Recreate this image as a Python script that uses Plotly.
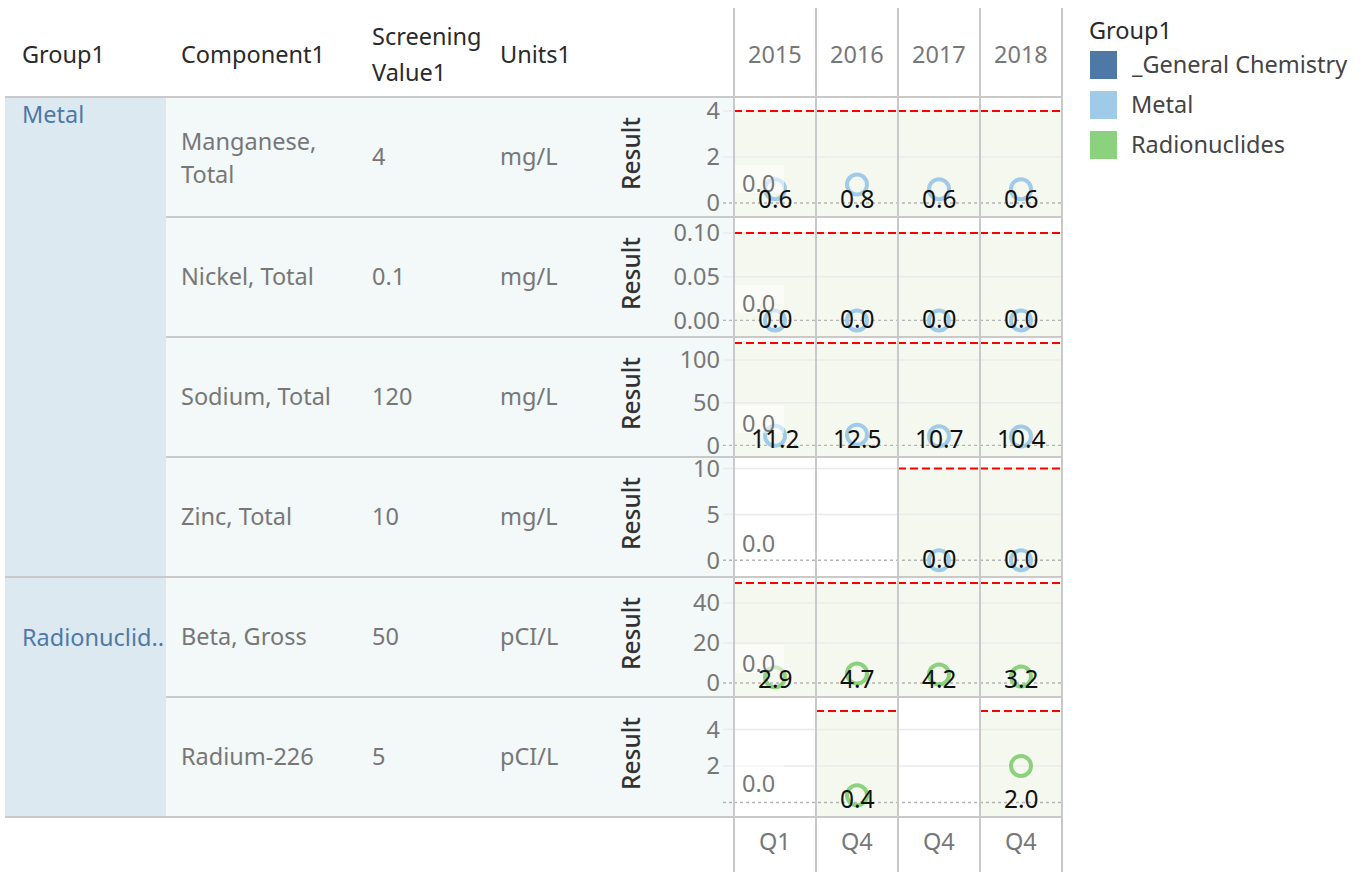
import plotly.graph_objects as go

W, H = 1364, 872
FONT = "Noto Sans"
FS = 23.5

# ---- data ----
years = ["2015", "2016", "2017", "2018"]
quarters = ["Q1", "Q4", "Q4", "Q4"]
group_names = ["Metal", "Radionuclid.."]
group_rows = [[0, 1, 2, 3], [4, 5]]
row_group = ["Metal", "Metal", "Metal", "Metal", "Radionuclides", "Radionuclides"]
components = [["Manganese,", "Total"], ["Nickel, Total"], ["Sodium, Total"],
              ["Zinc, Total"], ["Beta, Gross"], ["Radium-226"]]
screening = [4, 0.1, 120, 10, 50, 5]
screening_text = ["4", "0.1", "120", "10", "50", "5"]
units = ["mg/L", "mg/L", "mg/L", "mg/L", "pCI/L", "pCI/L"]

manganese = [0.6, 0.8, 0.6, 0.6]
nickel = [0.0, 0.0, 0.0, 0.0]
sodium = [11.2, 12.5, 10.7, 10.4]
zinc = [None, None, 0.0, 0.0]
beta = [2.9, 4.7, 4.2, 3.2]
radium = [None, 0.4, None, 2.0]
results = [manganese, nickel, sodium, zinc, beta, radium]

y_tickvals = [[0, 2, 4], [0, 0.05, 0.10], [0, 50, 100], [0, 5, 10], [0, 20, 40], [2, 4]]
y_ticktext = [["0", "2", "4"], ["0.00", "0.05", "0.10"], ["0", "50", "100"],
              ["0", "5", "10"], ["0", "20", "40"], ["2", "4"]]

legend_items = ["_General Chemistry", "Metal", "Radionuclides"]
group_colors = {"_General Chemistry": "#4e79a7", "Metal": "#a0cbe8", "Radionuclides": "#8cd17d"}

# ---- layout geometry (pixels) ----
ROW_TOP, ROW_H = 97, 120
PX0, PX1 = 734, 1062
NCOL = len(years)
COL_W = (PX1 - PX0) / NCOL
y_ranges = [[-0.61, 4.61], [-0.019, 0.1183], [-13.6, 127], [-1.82, 11.26], [-7, 53], [-0.79, 5.77]]

GRID = "#c9c9c9"
DARK = "#333333"
GRAY = "#777777"
TEXT_LIFT = 1  # nudge text up so glyphs sit centred on the row


def px(x):
    return x / W


def py(y):
    return 1 - y / H


fig = go.Figure()
shapes, annotations = [], []
layout = {}


def text(x, y, s, color=DARK, size=FS, xanchor="left", weight="normal", **kw):
    annotations.append(dict(xref="paper", yref="paper", x=px(x), y=py(y - TEXT_LIFT), text=s,
                            showarrow=False, xanchor=xanchor, yanchor="middle",
                            font=dict(family=FONT, size=size, color=color, weight=weight), **kw))


def hline(y, x0, x1, color=GRID, width=2):
    shapes.append(dict(type="line", xref="paper", yref="paper", x0=px(x0), x1=px(x1),
                       y0=py(y), y1=py(y), line=dict(color=color, width=width), layer="above"))


# table backgrounds
shapes.append(dict(type="rect", xref="paper", yref="paper", x0=px(5), x1=px(166),
                   y0=py(ROW_TOP + 6 * ROW_H), y1=py(ROW_TOP), fillcolor="#dde9f0",
                   line_width=0, layer="below"))
shapes.append(dict(type="rect", xref="paper", yref="paper", x0=px(166), x1=px(PX0),
                   y0=py(ROW_TOP + 6 * ROW_H), y1=py(ROW_TOP), fillcolor="#f3f8f9",
                   line_width=0, layer="below"))

# header row
text(20, 55, "Group1", color="#2a2a2a")
text(179, 55, "Component1", color="#2a2a2a")
text(370, 37, "Screening", color="#2a2a2a")
text(370, 73, "Value1", color="#2a2a2a")
text(498, 55, "Units1", color="#2a2a2a")
for c, (yr, q) in enumerate(zip(years, quarters)):
    cx = PX0 + COL_W * (c + 0.5)
    text(cx, 55, yr, color=GRAY, xanchor="center")
    text(cx, 842, q, color=GRAY, xanchor="center")

# group labels
text(20, 115, group_names[0], color="#4e79a7")
text(20, 638, group_names[1], color="#4e79a7")

for i in range(6):
    n = i + 1
    sfx = "" if n == 1 else str(n)
    xa, ya = "x" + sfx, "y" + sfx
    top = ROW_TOP + i * ROW_H
    mid = top + ROW_H / 2
    lo, hi = y_ranges[i]

    layout["xaxis" + sfx] = dict(domain=[px(PX0), px(PX1)], range=[0, NCOL], visible=False,
                                 anchor=ya, fixedrange=True, automargin=False)
    layout["yaxis" + sfx] = dict(domain=[py(top + ROW_H), py(top)], range=[lo, hi],
                                 tickvals=y_tickvals[i], ticktext=y_ticktext[i],
                                 showgrid=False, zeroline=False, showline=False, ticks="",
                                 ticklabelstandoff=13, anchor=xa, fixedrange=True,
                                 automargin=False,
                                 tickfont=dict(family=FONT, size=FS, color=GRAY))

    # row header cells
    comp = components[i]
    if len(comp) == 2:
        text(179, top + 45, comp[0], color=GRAY)
        text(179, top + 78, comp[1], color=GRAY)
    else:
        text(179, mid, comp[0], color=GRAY)
    text(370, mid, screening_text[i], color=GRAY)
    text(498, mid, units[i], color=GRAY)
    annotations.append(dict(xref="paper", yref="paper", x=px(630), y=py(mid - 3), text="Result",
                            showarrow=False, textangle=-90, xanchor="center", yanchor="middle",
                            font=dict(family=FONT, size=24.5, color=DARK, weight=500)))

    vals = results[i]
    color = group_colors[row_group[i]]

    # screening band for cells holding a result
    for c, v in enumerate(vals):
        if v is None:
            continue
        shapes.append(dict(type="rect", xref=xa, yref=ya, x0=c, x1=c + 1, y0=lo, y1=screening[i],
                           fillcolor="#f5f8ee", line_width=0, layer="below"))
    # gridlines
    for t in y_tickvals[i]:
        if t == 0:
            continue
        shapes.append(dict(type="line", xref=xa, yref=ya, x0=0, x1=NCOL, y0=t, y1=t,
                           line=dict(color="#ebebeb", width=1.5), layer="below"))
        shapes.append(dict(type="line", xref="paper", yref=ya, x0=px(723), x1=px(PX0), y0=t, y1=t,
                           line=dict(color="#ebebeb", width=1.5), layer="above"))
    # zero line
    shapes.append(dict(type="line", xref=xa, yref=ya, x0=0, x1=NCOL, y0=0, y1=0,
                       line=dict(color="#b5b5b5", width=1.4, dash="3px,3px"), layer="between"))
    shapes.append(dict(type="line", xref="paper", yref=ya, x0=px(723), x1=px(PX0), y0=0, y1=0,
                       line=dict(color="#b5b5b5", width=1.4, dash="3px,3px"), layer="above"))
    # screening value reference line
    for c, v in enumerate(vals):
        if v is None:
            continue
        shapes.append(dict(type="line", xref=xa, yref=ya, x0=c, x1=c + 1,
                           y0=screening[i], y1=screening[i],
                           line=dict(color="#ff0000", width=2, dash="8px,4px"), layer="between"))

    xs = [c + 0.5 for c, v in enumerate(vals) if v is not None]
    ys = [v for v in vals if v is not None]
    fig.add_trace(go.Scatter(x=xs, y=ys, xaxis=xa, yaxis=ya, mode="markers",
                             marker=dict(symbol="circle-open", size=20, color=color,
                                         line=dict(width=4)),
                             showlegend=False, hoverinfo="skip", cliponaxis=False))

    # "0.0" reference label in the first column
    shapes.append(dict(type="rect", xref=xa, yref=ya + " domain", x0=1 / COL_W, x1=50 / COL_W,
                       y0=1 - 96 / ROW_H, y1=1 - 68 / ROW_H,
                       fillcolor="rgba(255,255,255,0.55)", line_width=0, layer="above"))
    annotations.append(dict(xref=xa, yref=ya + " domain", x=6 / COL_W, y=1 - 86 / ROW_H,
                            text="0.0", showarrow=False, xanchor="left", yanchor="middle",
                            font=dict(family=FONT, size=FS, color=GRAY)))
    # value labels
    for x, v in zip(xs, ys):
        annotations.append(dict(xref=xa, yref=ya + " domain", x=x, y=19 / ROW_H,
                                text=f"{v:.1f}", showarrow=False, xanchor="center",
                                yanchor="middle", font=dict(family=FONT, size=24.5, color="#111111")))

# table rules
hline(ROW_TOP, 5, PX1)
for i in range(1, 7):
    y = ROW_TOP + i * ROW_H
    starts_group = any(g[0] == i for g in group_rows) or i == 6
    hline(y, 5 if starts_group else 166, PX1)
for c in range(NCOL + 1):
    x = PX0 + COL_W * c
    shapes.append(dict(type="line", xref="paper", yref="paper", x0=px(x), x1=px(x),
                       y0=py(8), y1=py(H), line=dict(color=GRID, width=2), layer="above"))

# color legend
text(1087, 31, "Group1", color="#2a2a2a")
for k, name in enumerate(legend_items):
    y0 = 51 + k * 40
    shapes.append(dict(type="rect", xref="paper", yref="paper", x0=px(1090), x1=px(1117),
                       y0=py(y0 + 28), y1=py(y0), fillcolor=group_colors[name],
                       line_width=0, layer="above"))
    text(1129, y0 + 14, name, color="#444444")

fig.update_layout(width=W, height=H, margin=dict(l=0, r=0, t=0, b=0, autoexpand=False),
                  paper_bgcolor="white", plot_bgcolor="rgba(0,0,0,0)",
                  shapes=shapes, annotations=annotations, showlegend=False,
                  font=dict(family=FONT), **layout)
fig.write_html("out.html")
